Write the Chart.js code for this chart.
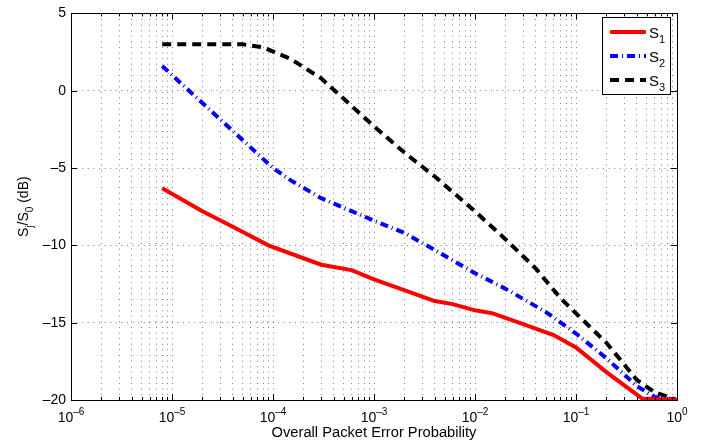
<!DOCTYPE html>
<html>
<head>
<meta charset="utf-8">
<script src="https://cdn.jsdelivr.net/npm/chart.js@4/dist/chart.umd.min.js"></script>
<style>
  html, body { margin: 0; padding: 0; background: #fff; }
  #wrap { width: 711px; height: 444px; }
</style>
</head>
<body>
<div id="wrap"><canvas id="chart" width="711" height="444"></canvas></div>
<script>
// values
const xS1 = [8e-6, 2e-5, 4e-5, 9e-5, 3e-4, 6e-4, 1e-3, 4e-3, 6e-3, 1e-2, 1.5e-2, 3e-2, 6e-2, 1e-1, 2e-1, 4.5e-1, 1];
const yS1 = [-6.3, -7.8, -8.8, -10.0, -11.25, -11.6, -12.2, -13.6, -13.8, -14.2, -14.4, -15.1, -15.8, -16.6, -18.2, -19.9, -20];

const xS2 = [8e-6, 1e-4, 1.5e-4, 3e-4, 1e-3, 2e-3, 4e-3, 1e-2, 2e-2, 5e-2, 1e-1, 2e-1, 4e-1, 6e-1, 1];
const yS2 = [1.6, -5.0, -5.8, -6.95, -8.4, -9.2, -10.3, -11.8, -12.8, -14.3, -15.7, -17.3, -19.1, -19.8, -20];

const xS3 = [8e-6, 5e-5, 8e-5, 1.5e-4, 3e-4, 1e-3, 2e-3, 4e-3, 1e-2, 2e-2, 4e-2, 7e-2, 1e-1, 2e-1, 4e-1, 6e-1, 1];
const yS3 = [3.0, 3.0, 2.8, 2.05, 0.8, -2.3, -4.0, -5.55, -7.8, -9.6, -11.5, -13.4, -14.4, -16.3, -18.7, -19.5, -20];

const seriesNames = ['S1', 'S2', 'S3'];
const seriesSubs = ['1', '2', '3'];
const xDecades = [-6, -5, -4, -3, -2, -1, 0];
const yTicks = [-20, -15, -10, -5, 0, 5];

const FONT = '"Liberation Sans", Arial, Helvetica, sans-serif';

function pts(xs, ys) {
    return xs.map((x, i) => ({ x: x, y: ys[i] }));
}

// 1..9 x 10^k for every decade
function logTicks() {
    const out = [];
    for (let k = xDecades[0]; k <= xDecades[xDecades.length - 1]; k++) {
        for (let m = 1; m <= 9; m++) {
            if (k === 0 && m > 1) break;
            out.push({ value: m * Math.pow(10, k) });
        }
    }
    return out;
}

function isDecade(v) {
    const l = Math.log10(v);
    return Math.abs(l - Math.round(l)) < 1e-9;
}

// draws text with a sub- or superscript part
function drawScript(ctx, base, script, x, y, shift, align, size) {
    size = size || 14;
    const small = Math.round(size * 0.72);
    ctx.font = size + 'px ' + FONT;
    const wb = ctx.measureText(base).width;
    ctx.font = small + 'px ' + FONT;
    const ws = ctx.measureText(script).width;
    let x0 = x;
    if (align === 'center') x0 = x - (wb + ws) / 2;
    ctx.textAlign = 'left';
    ctx.textBaseline = 'alphabetic';
    ctx.font = size + 'px ' + FONT;
    ctx.fillText(base, x0, y);
    ctx.font = small + 'px ' + FONT;
    ctx.fillText(script, x0 + wb, y + shift);
    return wb + ws;
}

const matlabFrame = {
    id: 'matlabFrame',
    afterDatasetsDraw(chart) {
        const { ctx, chartArea: a, scales: { x, y } } = chart;
        ctx.save();
        ctx.strokeStyle = '#000';
        ctx.lineWidth = 1;
        ctx.setLineDash([]);
        // inner ticks
        ctx.beginPath();
        x.ticks.forEach(t => {
            const px = Math.round(x.getPixelForValue(t.value)) + 0.5;
            const len = isDecade(t.value) ? 6 : 3;
            ctx.moveTo(px, a.bottom); ctx.lineTo(px, a.bottom - len);
            ctx.moveTo(px, a.top); ctx.lineTo(px, a.top + len);
        });
        yTicks.forEach(v => {
            const py = Math.round(y.getPixelForValue(v)) + 0.5;
            ctx.moveTo(a.left, py); ctx.lineTo(a.left + 6, py);
            ctx.moveTo(a.right, py); ctx.lineTo(a.right - 6, py);
        });
        ctx.stroke();
        // box
        ctx.strokeRect(Math.round(a.left) + 0.5, Math.round(a.top) + 0.5,
            Math.round(a.right - a.left), Math.round(a.bottom - a.top));

        // x tick labels 10^k
        ctx.fillStyle = '#000';
        xDecades.forEach(k => {
            const px = x.getPixelForValue(Math.pow(10, k));
            const sup = k < 0 ? '\u2013' + Math.abs(k) : String(k);
            drawScript(ctx, '10', sup, px, a.bottom + 22, -7, 'center');
        });

        // y title S_j/S_0 (dB)
        ctx.save();
        ctx.translate(28, (a.top + a.bottom) / 2);
        ctx.rotate(-Math.PI / 2);
        const parts = [['S', 'j'], ['/S', '0'], [' (dB)', '']];
        let total = 0;
        parts.forEach(p => {
            ctx.font = '14px ' + FONT; total += ctx.measureText(p[0]).width;
            ctx.font = '10px ' + FONT; total += ctx.measureText(p[1]).width;
        });
        let cx = -total / 2;
        parts.forEach(p => {
            cx += drawScript(ctx, p[0], p[1], cx, 0, 5, 'left');
        });
        ctx.restore();

        // legend
        const lx = 602.5, ly = 17.5, lw = 68, lh = 77;
        ctx.fillStyle = '#fff';
        ctx.fillRect(lx, ly, lw, lh);
        ctx.strokeStyle = '#000';
        ctx.lineWidth = 1;
        ctx.strokeRect(lx, ly, lw, lh);
        chart.data.datasets.forEach((ds, i) => {
            const rowY = 32 + i * 24;
            ctx.save();
            ctx.strokeStyle = ds.borderColor;
            ctx.lineWidth = ds.borderWidth;
            ctx.setLineDash(ds.borderDash || []);
            ctx.beginPath();
            ctx.moveTo(610, rowY);
            ctx.lineTo(646, rowY);
            ctx.stroke();
            ctx.restore();
            ctx.fillStyle = '#000';
            drawScript(ctx, 'S', seriesSubs[i], 649, rowY + 5.5, 5, 'left', 15);
        });
        ctx.restore();
    }
};

new Chart(document.getElementById('chart').getContext('2d'), {
    type: 'line',
    plugins: [matlabFrame],
    data: {
        datasets: [
            {
                label: seriesNames[0],
                data: pts(xS1, yS1),
                borderColor: '#ff0000',
                borderWidth: 4,
                borderDash: []
            },
            {
                label: seriesNames[1],
                data: pts(xS2, yS2),
                borderColor: '#0000ff',
                borderWidth: 4,
                borderDash: [8, 4, 1, 4]
            },
            {
                label: seriesNames[2],
                data: pts(xS3, yS3),
                borderColor: '#000000',
                borderWidth: 4,
                borderDash: [9, 6]
            }
        ]
    },
    options: {
        responsive: false,
        animation: false,
        layout: {
            padding: { top: 11, right: 34, left: 0, bottom: 0 }
        },
        elements: {
            point: { radius: 0 },
            line: { tension: 0, fill: false }
        },
        plugins: {
            legend: { display: false },
            tooltip: { enabled: false }
        },
        scales: {
            x: {
                type: 'logarithmic',
                position: 'bottom',
                min: 1e-6,
                max: 1,
                afterBuildTicks: scale => { scale.ticks = logTicks(); },
                afterFit: scale => { scale.height = 44; },
                ticks: { display: false },
                grid: {
                    color: 'rgba(0,0,0,0.5)',
                    lineWidth: 1,
                    drawTicks: false
                },
                border: { display: false, dash: [1, 4.6] },
                title: {
                    display: true,
                    text: 'Overall Packet Error Probability',
                    color: '#000',
                    font: { family: FONT, size: 14.7 },
                    padding: { top: 0, bottom: 2 }
                }
            },
            y: {
                type: 'linear',
                min: -20,
                max: 5,
                afterBuildTicks: scale => { scale.ticks = yTicks.map(v => ({ value: v })); },
                afterFit: scale => { scale.width = 71; },
                ticks: {
                    color: '#000',
                    padding: 5,
                    font: { family: FONT, size: 14 },
                    callback: v => (v < 0 ? '\u2013' + Math.abs(v) : String(v))
                },
                grid: {
                    color: 'rgba(0,0,0,0.5)',
                    lineWidth: 1,
                    drawTicks: false
                },
                border: { display: false, dash: [1, 4.6] }
            }
        }
    }
});
</script>
</body>
</html>
